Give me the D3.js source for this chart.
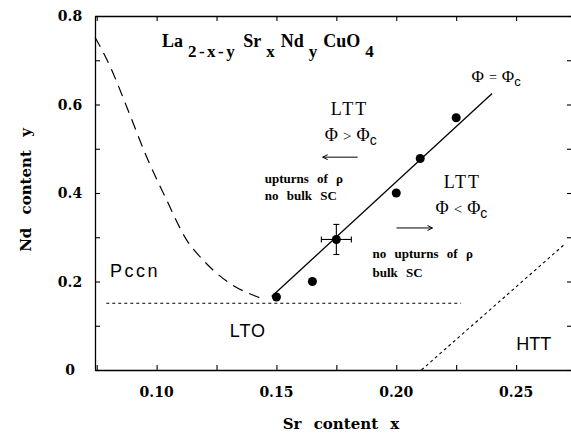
<!DOCTYPE html>
<html>
<head>
<meta charset="utf-8">
<script src="https://cdn.jsdelivr.net/npm/d3@7"></script>
<style>
  html, body { margin: 0; padding: 0; background: #fff; }
  svg { display: block; }
  .tick-lbl { font-family: "DejaVu Serif", serif; font-weight: bold; font-size: 14px; }
  .ax-title { font-family: "DejaVu Serif", serif; font-weight: bold; font-size: 15px; }
  .serif { font-family: "Liberation Serif", "Times New Roman", serif; }
  .sans { font-family: "Liberation Sans", Arial, sans-serif; }
</style>
</head>
<body>
<svg id="chart" width="571" height="434"></svg>
<script>
// measured points (Sr content x, Nd content y)
const srContent = [0.150, 0.165, 0.175, 0.200, 0.210, 0.225];
const ndContent = [0.165, 0.200, 0.295, 0.400, 0.478, 0.570];
// error bar on the x = 0.175 sample
const errPoint = { x: 0.175, y: 0.295, dx: 0.00625, dy: 0.034 };

// Phi = Phi_c boundary (solid line)
const critX = [0.148, 0.240];
const critY = [0.166, 0.625];

// Pccn / LTO boundary (dashed)
const pccnX = [0.0743, 0.0806, 0.0875, 0.0958, 0.1042, 0.1125, 0.1193, 0.1305, 0.1417, 0.1445];
const pccnY = [0.752, 0.686, 0.595, 0.482, 0.384, 0.294, 0.249, 0.196, 0.166, 0.160];

// LTO / LTT boundary (dotted, horizontal)
const ltoX = [0.079, 0.227];
const ltoY = [0.151, 0.151];

// HTT / LTO boundary (dotted)
const httX = [0.2105, 0.2700];
const httY = [0.000, 0.283];

// axis ticks
const xMajor = [0.10, 0.15, 0.20, 0.25];
const xMinor = [0.075, 0.125, 0.175, 0.225];
const yMajor = [0, 0.2, 0.4, 0.6, 0.8];
const yMinor = [0.1, 0.3, 0.5, 0.7];

const svg = d3.select("#chart");
const margin = { left: 95, right: 572, top: 16, bottom: 370 };

const x = d3.scaleLinear().domain([0.07429, 0.27333]).range([margin.left, margin.right]);
const y = d3.scaleLinear().domain([0, 0.8]).range([margin.bottom, margin.top]);

const tickLen = 5;
const allX = xMajor.concat(xMinor);
const allY = yMajor.concat(yMinor);

// axes: ticks pointing inward, labels drawn separately
svg.append("g").attr("transform", `translate(0,${margin.bottom})`)
    .call(d3.axisBottom(x).tickValues(allX).tickSizeInner(-tickLen).tickSizeOuter(0).tickFormat(""));
svg.append("g").attr("transform", `translate(0,${margin.top})`)
    .call(d3.axisTop(x).tickValues(allX).tickSizeInner(-tickLen).tickSizeOuter(0).tickFormat(""));
svg.append("g").attr("transform", `translate(${margin.left},0)`)
    .call(d3.axisLeft(y).tickValues(allY).tickSizeInner(-tickLen).tickSizeOuter(0).tickFormat(""));
svg.append("g").attr("transform", `translate(${margin.right},0)`)
    .call(d3.axisRight(y).tickValues(allY).tickSizeInner(-tickLen).tickSizeOuter(0).tickFormat(""));
svg.selectAll(".domain").attr("stroke", "#000").attr("stroke-width", 1.3);
svg.selectAll(".tick line").attr("stroke", "#000").attr("stroke-width", 1.1);

// tick labels
svg.append("g").selectAll("text").data(xMajor).join("text")
    .attr("class", "tick-lbl")
    .attr("x", d => x(d)).attr("y", 397)
    .attr("text-anchor", "middle")
    .text(d => d.toFixed(2));
svg.append("g").selectAll("text").data(yMajor).join("text")
    .attr("class", "tick-lbl")
    .attr("x", 70).attr("y", d => y(d) + 5)
    .attr("text-anchor", "middle")
    .text(d => d === 0 ? "0" : d.toFixed(1));

// axis titles
svg.append("text").attr("class", "ax-title")
    .attr("x", 341).attr("y", 429).attr("text-anchor", "middle")
    .attr("word-spacing", 7)
    .text("Sr content x");
svg.append("text").attr("class", "ax-title")
    .attr("transform", "translate(31,190) rotate(-90)")
    .attr("text-anchor", "middle")
    .attr("word-spacing", 8)
    .text("Nd content y");

const line = d3.line().x(d => x(d[0])).y(d => y(d[1]));
const zip = (a, b) => a.map((v, i) => [v, b[i]]);

// boundaries
svg.append("path").datum(zip(pccnX, pccnY))
    .attr("d", line.curve(d3.curveMonotoneX))
    .attr("fill", "none").attr("stroke", "#000").attr("stroke-width", 1.2)
    .attr("stroke-dasharray", "11,7");
line.curve(d3.curveLinear);
svg.append("path").datum(zip(ltoX, ltoY))
    .attr("d", line)
    .attr("fill", "none").attr("stroke", "#000").attr("stroke-width", 1.1)
    .attr("stroke-dasharray", "3,3");
svg.append("path").datum(zip(httX, httY))
    .attr("d", line)
    .attr("fill", "none").attr("stroke", "#000").attr("stroke-width", 1.1)
    .attr("stroke-dasharray", "3,3");
svg.append("path").datum(zip(critX, critY))
    .attr("d", line)
    .attr("fill", "none").attr("stroke", "#000").attr("stroke-width", 1.3);

// error bars
const cap = 3;
const eb = svg.append("g").attr("stroke", "#000").attr("stroke-width", 1.1);
eb.append("line")
    .attr("x1", x(errPoint.x - errPoint.dx)).attr("x2", x(errPoint.x + errPoint.dx))
    .attr("y1", y(errPoint.y)).attr("y2", y(errPoint.y));
eb.append("line")
    .attr("x1", x(errPoint.x)).attr("x2", x(errPoint.x))
    .attr("y1", y(errPoint.y - errPoint.dy)).attr("y2", y(errPoint.y + errPoint.dy));
[errPoint.x - errPoint.dx, errPoint.x + errPoint.dx].forEach(v => {
    eb.append("line").attr("x1", x(v)).attr("x2", x(v))
        .attr("y1", y(errPoint.y) - cap).attr("y2", y(errPoint.y) + cap);
});
[errPoint.y - errPoint.dy, errPoint.y + errPoint.dy].forEach(v => {
    eb.append("line").attr("y1", y(v)).attr("y2", y(v))
        .attr("x1", x(errPoint.x) - cap).attr("x2", x(errPoint.x) + cap);
});

// data points
svg.append("g").selectAll("circle").data(zip(srContent, ndContent)).join("circle")
    .attr("cx", d => x(d[0])).attr("cy", d => y(d[1]))
    .attr("r", 4.5).attr("fill", "#000");

// ---- annotations (positions in data units) ----
// title La_{2-x-y} Sr_x Nd_y CuO_4
const title = svg.append("text").attr("class", "serif")
    .attr("x", x(0.1022)).attr("y", y(0.730))
    .attr("font-weight", "bold").attr("font-size", 18);
const titleParts = [["La", false], ["2-x-y", true], ["Sr", false], ["x", true], ["Nd", false], ["y", true], ["CuO", false], ["4", true]];
titleParts.forEach(([t, sub], i) => {
    const ts = title.append("tspan").text(t);
    if (sub) ts.attr("dy", 10).attr("dx", 5).attr("font-size", 17).attr("letter-spacing", t.length > 1 ? 2.5 : 0);
    else if (i > 0) ts.attr("dy", -10).attr("dx", 6).attr("letter-spacing", 0);
});

function phiLabel(px, py, op, anchor, size) {
    const t = svg.append("text").attr("class", "serif")
        .attr("x", x(px)).attr("y", y(py))
        .attr("text-anchor", anchor).attr("font-size", size);
    t.append("tspan").text("\u03A6");
    t.append("tspan").attr("dx", 5).attr("font-size", size - 3).text(op);
    t.append("tspan").attr("dx", 5).text("\u03A6");
    t.append("tspan").attr("dy", 4).attr("font-family", "Liberation Sans, sans-serif")
        .attr("font-size", size - 4).text("c");
}
phiLabel(0.2314, 0.651, "=", "start", 17);
phiLabel(0.1810, 0.5175, ">", "middle", 18);
phiLabel(0.2272, 0.3525, "<", "middle", 18);

function label(px, py, txt, cls, size, opts) {
    opts = opts || {};
    svg.append("text").attr("class", cls)
        .attr("x", x(px)).attr("y", y(py))
        .attr("text-anchor", opts.anchor || "start")
        .attr("font-size", size)
        .attr("font-weight", opts.weight || "normal")
        .attr("letter-spacing", opts.ls || 0)
        .attr("word-spacing", opts.ws || 0)
        .text(txt);
}
label(0.1805, 0.576, "LTT", "serif", 18, { anchor: "middle", ls: 2 });
label(0.2276, 0.411, "LTT", "serif", 18, { anchor: "middle", ls: 2 });
label(0.1451, 0.4226, "upturns of \u03C1", "serif", 13, { weight: "bold", ws: 5 });
label(0.1451, 0.384, "no bulk SC", "serif", 13, { weight: "bold", ws: 5 });
label(0.1901, 0.253, "no upturns of \u03C1", "serif", 13, { weight: "bold", ws: 5 });
label(0.1901, 0.210, "bulk SC", "serif", 13, { weight: "bold", ws: 5 });
label(0.0805, 0.210, "Pccn", "sans", 18, { ls: 2.5 });
label(0.1305, 0.0746, "LTO", "sans", 18, { ls: 1 });
label(0.2501, 0.045, "HTT", "sans", 18, {});

// arrows
function arrow(x1, x2, yy) {
    const g = svg.append("g").attr("stroke", "#000").attr("stroke-width", 1).attr("fill", "none");
    g.append("line").attr("x1", x(x1)).attr("x2", x(x2)).attr("y1", y(yy)).attr("y2", y(yy));
    const dir = x2 > x1 ? -1 : 1;
    g.append("path")
        .attr("d", `M${x(x2) + dir * 5},${y(yy) - 2.5} L${x(x2)},${y(yy)} L${x(x2) + dir * 5},${y(yy) + 2.5}`);
}
arrow(0.1839, 0.1693, 0.481);
arrow(0.2001, 0.2151, 0.321);
</script>
</body>
</html>
